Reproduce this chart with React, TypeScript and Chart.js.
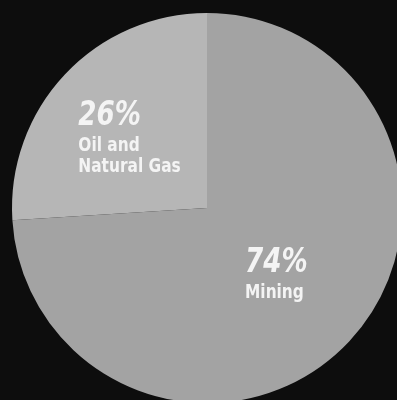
import React, { useEffect, useRef } from "react";
import { Chart, registerables } from "chart.js";

Chart.register(...registerables);

const categories = ["Mining", "Oil and Natural Gas"];
const values = [74, 26];
const percentLabels = ["74%", "26%"];
const nameLines = [["Mining"], ["Oil and", "Natural Gas"]];
const sliceColors = ["#a3a3a3", "#b6b6b6"];

// label anchor offsets, as fractions of the pie radius from its centre
const labelAnchors = [
  { dx: 0.195, dy: 0.33 },
  { dx: -0.66, dy: -0.425 },
];

const FONT = '"DejaVu Sans", sans-serif';
const CONDENSE = 0.77;

const bgPlugin = {
  id: "bg",
  beforeDraw(chart: any) {
    const { ctx, width, height } = chart;
    ctx.save();
    ctx.fillStyle = "#0d0d0d";
    ctx.fillRect(0, 0, width, height);
    ctx.restore();
  },
};

const labelPlugin = {
  id: "sliceLabels",
  afterDatasetsDraw(chart: any) {
    const { ctx } = chart;
    const meta = chart.getDatasetMeta(0);
    meta.data.forEach((arc: any, i: number) => {
      const r = arc.outerRadius;
      const x = arc.x + labelAnchors[i].dx * r;
      const y = arc.y + labelAnchors[i].dy * r;
      ctx.save();
      ctx.fillStyle = "#f4f4f4";
      ctx.textAlign = "left";
      ctx.textBaseline = "alphabetic";
      ctx.translate(x, y);
      ctx.scale(CONDENSE, 1);
      ctx.font = `italic bold 34px ${FONT}`;
      ctx.fillText(percentLabels[i], 0, 0);
      ctx.font = `bold 20px ${FONT}`;
      nameLines[i].forEach((line, j) => {
        ctx.fillText(line, 0, 26 + j * 21);
      });
      ctx.restore();
    });
  },
};

export default function App() {
  const ref = useRef<HTMLCanvasElement>(null);
  useEffect(() => {
    document.body.style.margin = "0";
    document.body.style.background = "#0d0d0d";
    const chart = new Chart(ref.current!, {
      type: "pie",
      data: {
        labels: categories,
        datasets: [
          {
            data: values,
            backgroundColor: sliceColors,
            borderWidth: 0,
          },
        ],
      },
      options: {
        animation: false,
        responsive: false,
        rotation: 0,
        layout: { padding: { left: 12, top: 13, right: 18, bottom: 7 } },
        plugins: {
          legend: { display: false },
          tooltip: { enabled: false },
        },
      },
      plugins: [bgPlugin, labelPlugin],
    });
    return () => chart.destroy();
  }, []);
  return (
    <div style={{ width: 397, height: 400, overflow: "hidden", position: "relative", background: "#0d0d0d" }}>
      <canvas ref={ref} width={420} height={410} style={{ display: "block", width: 420, height: 410 }} />
    </div>
  );
}
